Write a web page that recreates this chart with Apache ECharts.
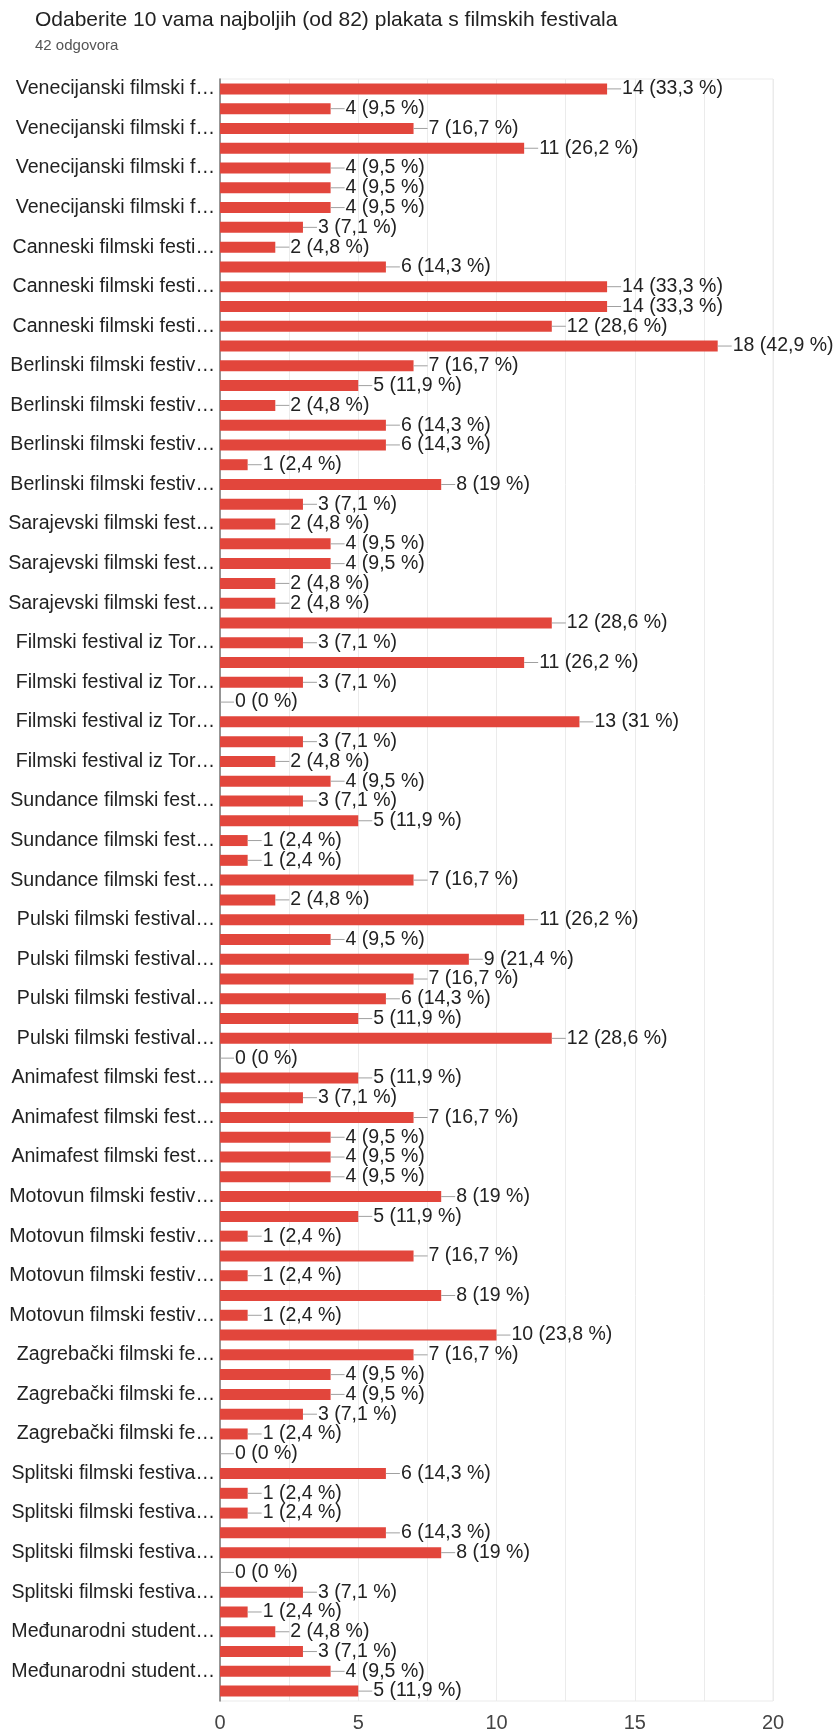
<!DOCTYPE html>
<html>
<head>
<meta charset="utf-8">
<title>Plakati filmskih festivala</title>
<script src="https://cdn.jsdelivr.net/npm/echarts@6/dist/echarts.min.js"></script>
<style>
  html, body { margin: 0; padding: 0; background: #fff; }
  #chart { width: 834px; height: 1733px; }
</style>
</head>
<body>
<div id="chart"></div>
<script>
// broj odgovora (za postotke)
var totalAnswers = 42;

// kategorije (prikazuje se svaka druga oznaka)
var categories = [
    'Venecijanski filmski f…', 'Venecijanski filmski f…',
    'Venecijanski filmski f…', 'Venecijanski filmski f…',
    'Venecijanski filmski f…', 'Venecijanski filmski f…',
    'Venecijanski filmski f…', 'Venecijanski filmski f…',
    'Canneski filmski festi…', 'Canneski filmski festi…',
    'Canneski filmski festi…', 'Canneski filmski festi…',
    'Canneski filmski festi…', 'Canneski filmski festi…',
    'Berlinski filmski festiv…', 'Berlinski filmski festiv…',
    'Berlinski filmski festiv…', 'Berlinski filmski festiv…',
    'Berlinski filmski festiv…', 'Berlinski filmski festiv…',
    'Berlinski filmski festiv…', 'Berlinski filmski festiv…',
    'Sarajevski filmski fest…', 'Sarajevski filmski fest…',
    'Sarajevski filmski fest…', 'Sarajevski filmski fest…',
    'Sarajevski filmski fest…', 'Sarajevski filmski fest…',
    'Filmski festival iz Tor…', 'Filmski festival iz Tor…',
    'Filmski festival iz Tor…', 'Filmski festival iz Tor…',
    'Filmski festival iz Tor…', 'Filmski festival iz Tor…',
    'Filmski festival iz Tor…', 'Filmski festival iz Tor…',
    'Sundance filmski fest…', 'Sundance filmski fest…',
    'Sundance filmski fest…', 'Sundance filmski fest…',
    'Sundance filmski fest…', 'Sundance filmski fest…',
    'Pulski filmski festival…', 'Pulski filmski festival…',
    'Pulski filmski festival…', 'Pulski filmski festival…',
    'Pulski filmski festival…', 'Pulski filmski festival…',
    'Pulski filmski festival…', 'Pulski filmski festival…',
    'Animafest filmski fest…', 'Animafest filmski fest…',
    'Animafest filmski fest…', 'Animafest filmski fest…',
    'Animafest filmski fest…', 'Animafest filmski fest…',
    'Motovun filmski festiv…', 'Motovun filmski festiv…',
    'Motovun filmski festiv…', 'Motovun filmski festiv…',
    'Motovun filmski festiv…', 'Motovun filmski festiv…',
    'Motovun filmski festiv…', 'Motovun filmski festiv…',
    'Zagrebački filmski fe…', 'Zagrebački filmski fe…',
    'Zagrebački filmski fe…', 'Zagrebački filmski fe…',
    'Zagrebački filmski fe…', 'Zagrebački filmski fe…',
    'Splitski filmski festiva…', 'Splitski filmski festiva…',
    'Splitski filmski festiva…', 'Splitski filmski festiva…',
    'Splitski filmski festiva…', 'Splitski filmski festiva…',
    'Splitski filmski festiva…', 'Splitski filmski festiva…',
    'Međunarodni student…', 'Međunarodni student…',
    'Međunarodni student…', 'Međunarodni student…'
];

// broj glasova po plakatu
var votes = [
    14, 4, 7, 11, 4, 4, 4, 3,
    2, 6, 14, 14, 12, 18,
    7, 5, 2, 6, 6, 1, 8, 3,
    2, 4, 4, 2, 2, 12,
    3, 11, 3, 0, 13, 3, 2, 4,
    3, 5, 1, 1, 7, 2,
    11, 4, 9, 7, 6, 5, 12, 0,
    5, 3, 7, 4, 4, 4,
    8, 5, 1, 7, 1, 8, 1, 10,
    7, 4, 4, 3, 1, 0,
    6, 1, 1, 6, 8, 0, 3, 1,
    2, 3, 4, 5
];

// oznake osi x
var xTicks = [0, 5, 10, 15, 20];

var fontFamily = '"Liberation Sans", Arial, sans-serif';

/**
 * postotak s decimalnim zarezom
 */
function percentText(v) {
    var p = Math.round(v / totalAnswers * 1000) / 10;
    return String(p).replace('.', ',');
}

var myChart = echarts.init(document.getElementById('chart'), null, {renderer: 'canvas'});
var option = {
    animation: false,
    backgroundColor: '#ffffff',
    title: [
        {
            text: 'Odaberite 10 vama najboljih (od 82) plakata s filmskih festivala',
            left: 35,
            top: 10,
            padding: 0,
            textStyle: {fontFamily: fontFamily, fontSize: 21, fontWeight: 'normal', color: '#222222'}
        },
        {
            text: totalAnswers + ' odgovora',
            left: 35,
            top: 38,
            padding: 0,
            textStyle: {fontFamily: fontFamily, fontSize: 15, fontWeight: 'normal', color: '#555555'}
        }
    ],
    grid: {
        left: 220,
        right: 61,
        top: 79,
        bottom: 32,
        show: true,
        borderColor: '#ebebeb',
        borderWidth: 1
    },
    xAxis: {
        type: 'value',
        min: xTicks[0],
        max: xTicks[xTicks.length - 1],
        interval: 2.5,
        axisLine: {show: false},
        axisTick: {show: false},
        splitLine: {lineStyle: {color: '#ebebeb', width: 1}},
        axisLabel: {
            fontFamily: fontFamily,
            fontSize: 20,
            color: '#444444',
            margin: 12,
            formatter: function (v) {
                return xTicks.indexOf(v) >= 0 ? String(v) : '';
            }
        }
    },
    yAxis: {
        type: 'category',
        inverse: true,
        data: categories,
        axisTick: {show: false},
        axisLine: {show: true, lineStyle: {color: '#777777', width: 1.5}},
        splitLine: {show: false},
        axisLabel: {
            interval: 1,
            fontFamily: fontFamily,
            fontSize: 19.6,
            color: '#222222',
            margin: 5
        }
    },
    series: [
        {
            name: 'Glasovi',
            type: 'bar',
            data: votes,
            barWidth: 11,
            itemStyle: {color: '#e2463c'},
            label: {
                show: true,
                position: 'right',
                distance: 0,
                fontFamily: fontFamily,
                fontSize: 19.5,
                color: '#222222',
                formatter: function (params) {
                    return '{l|}{t|' + params.value + ' (' + percentText(params.value) + ' %)}';
                },
                rich: {
                    l: {width: 14, height: 1, backgroundColor: '#a0a0a0'},
                    t: {fontFamily: fontFamily, fontSize: 19.5, color: '#222222', padding: [0, 0, 0, 1]}
                }
            }
        }
    ]
};
myChart.setOption(option, true);
</script>
</body>
</html>
